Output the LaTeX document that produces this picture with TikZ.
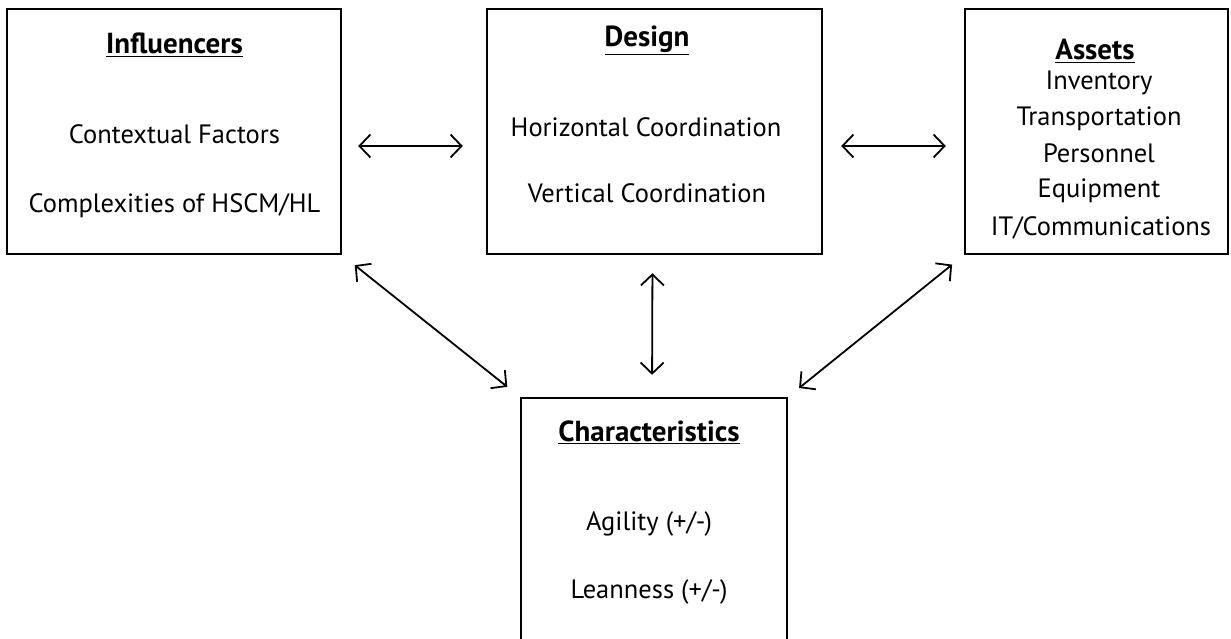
\documentclass[tikz,border=0pt]{standalone}
\usepackage{fontspec}
\setmainfont{PT Sans}
\usetikzlibrary{arrows.meta,calc}
\begin{document}
\begin{tikzpicture}[x=1pt,y=-1pt,
  box/.style={draw,line width=2.4pt,rectangle,inner sep=0pt},
  txt/.style={anchor=base,inner sep=0pt,font=\fontsize{26.5}{30}\selectfont},
  head/.style={txt,font=\fontsize{29}{32}\selectfont\bfseries},
  link/.style={line width=1.8pt,{Straight Barb[length=11pt,width=23pt,line width=1.8pt]}-{Straight Barb[length=11pt,width=23pt,line width=1.8pt]}}]
  \clip (0,0) rectangle (1231,639);
  \fill[white] (0,0) rectangle (1231,639);

  % the four blocks
  \node[box,minimum width=334pt,minimum height=245pt] (infl) at (174,131.5) {};
  \node[box,minimum width=335pt,minimum height=245pt] (design) at (654.5,131.5) {};
  \node[box,minimum width=263pt,minimum height=245pt] (assets) at (1096.5,131.5) {};
  \node[box,minimum width=266pt,minimum height=282pt] (chars) at (654,539) {};

  % Influencers
  \node[head] (inflh) at (174.5,54) {\underline{Influencers}};
  \node[txt] (infl1) at (174.5,144) {Contextual Factors};
  \node[txt] (infl2) at (174.5,212) {Complexities of HSCM/HL};

  % Design
  \node[head] (desh) at (647,47) {\underline{Design}};
  \node[txt] (des1) at (646,137) {Horizontal Coordination};
  \node[txt] (des2) at (647,203) {Vertical Coordination};

  % Assets
  \node[head] (assh) at (1095,60) {\underline{Assets}};
  \node[txt] (ass1) at (1099,90) {Inventory};
  \node[txt] (ass2) at (1099,126) {Transportation};
  \node[txt] (ass3) at (1099,163) {Personnel};
  \node[txt] (ass4) at (1099,198) {Equipment};
  \node[txt] (ass5) at (1101,235) {IT/Communications};

  % Characteristics
  \node[head] (chh) at (649,441) {\underline{Characteristics}};
  \node[txt] (ch1) at (649,530) {Agility (+/-)};
  \node[txt] (ch2) at (649,598) {Leanness (+/-)};

  % two-way links
  \draw[link,shorten <=16pt,shorten >=23pt] ($(infl.east)+(0,14.5)$) -- ($(design.west)+(0,14.5)$);
  \draw[link,shorten <=18pt,shorten >=18pt] ($(design.east)+(0,14.5)$) -- ($(assets.west)+(0,14.5)$);
  \draw[link,shorten <=16pt,shorten >=16pt] (infl.south east) -- (chars.north west);
  \draw[link,shorten <=15pt,shorten >=14pt] (assets.south west) -- (chars.north east);
  \draw[link,shorten <=18pt,shorten >=22pt] ($(design.south)+(-2,0)$) -- ($(chars.north)+(-2,0)$);
\end{tikzpicture}
\end{document}
